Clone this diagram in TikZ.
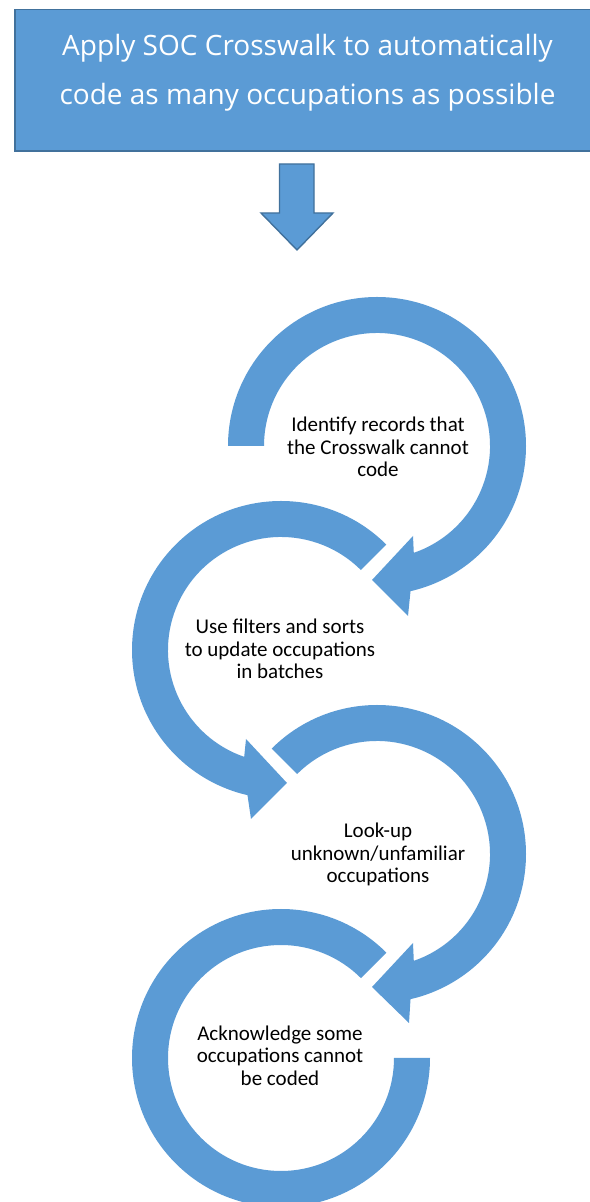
\documentclass[tikz,border=0pt]{standalone}
\usepackage{fontspec}
\usetikzlibrary{calc}
\setmainfont{Carlito}
\newfontfamily\boxfont{Open Sans}
\definecolor{ofblue}{HTML}{5B9BD5}
\definecolor{ofdark}{HTML}{41719C}
\begin{document}
\begin{tikzpicture}[x=1bp,y=1bp,
  ringfill/.style={fill=ofblue, draw=none},
  topbox/.style={rectangle, fill=ofblue, draw=ofdark, line width=1.6bp,
    minimum width=630bp, minimum height=141.5bp, inner sep=0pt},
  toptext/.style={text=white, font=\boxfont\fontsize{28bp}{49bp}\selectfont,
    align=center, inner sep=0pt},
  blockarrow/.style={fill=ofblue, draw=ofdark, line width=1.4bp, line join=miter},
  ringlabel/.style={text=black, font=\fontsize{21bp}{22.5bp}\selectfont,
    align=center, inner sep=0pt, anchor=north}]
\useasboundingbox (0,0) rectangle (590,1202);
\clip (0,0) rectangle (590,1202);

% top box (runs past the right edge)
\node[topbox] (top) at (330,1121.75) {};
\node[toptext] (toptxt) at (307.5,1129)
  {Apply SOC Crosswalk to automatically\\code as many occupations as possible};

% block arrow
\draw[blockarrow] (279.5,1038) -- (314,1038) -- (314,989) -- (333,989)
  -- (297,952) -- (261,989) -- (279.5,989) -- cycle;

% ring centres
\coordinate (c1) at (377,756);
\coordinate (c2) at (281,552);
\coordinate (c3) at (377,348);
\coordinate (c4) at (281,144);

% ring 1
\fill[ringfill] ($(c1)+(180:149)$) arc[start angle=180, end angle=-77, radius=149]
  -- ($(c1)+(31,-170)$) -- ($(c1)+(-5,-134)$) -- ($(c1)+(36,-90)$)
  -- ($(c1)+(-71:113)$) arc[start angle=-71, end angle=180, radius=113] -- cycle;

% ring 2
\fill[ringfill] ($(c2)+(45:149)$) arc[start angle=45, end angle=257, radius=149]
  -- ($(c2)+(-30,-169)$) -- ($(c2)+(6,-133)$) -- ($(c2)+(-35,-89)$)
  -- ($(c2)+(251:113)$) arc[start angle=251, end angle=45, radius=113] -- cycle;

% ring 3
\fill[ringfill] ($(c3)+(135:149)$) arc[start angle=135, end angle=-77, radius=149]
  -- ($(c3)+(32,-169)$) -- ($(c3)+(-5,-133)$) -- ($(c3)+(36,-89)$)
  -- ($(c3)+(-71:113)$) arc[start angle=-71, end angle=135, radius=113] -- cycle;

% ring 4
\fill[ringfill] ($(c4)+(45:149)$) arc[start angle=45, end angle=360, radius=149]
  -- ($(c4)+(0:113)$) arc[start angle=360, end angle=45, radius=113] -- cycle;

% labels
\node[ringlabel] (t1) at (378,784.8) {Identify records that\\the Crosswalk cannot\\code};
\node[ringlabel] (t2) at (280,583.2) {Use filters and sorts\\to update occupations\\in batches};
\node[ringlabel] (t3) at (378,379.2) {Look-up\\unknown/unfamiliar\\occupations};
\node[ringlabel] (t4) at (280,176.5) {Acknowledge some\\occupations cannot\\be coded};
\end{tikzpicture}
\end{document}
